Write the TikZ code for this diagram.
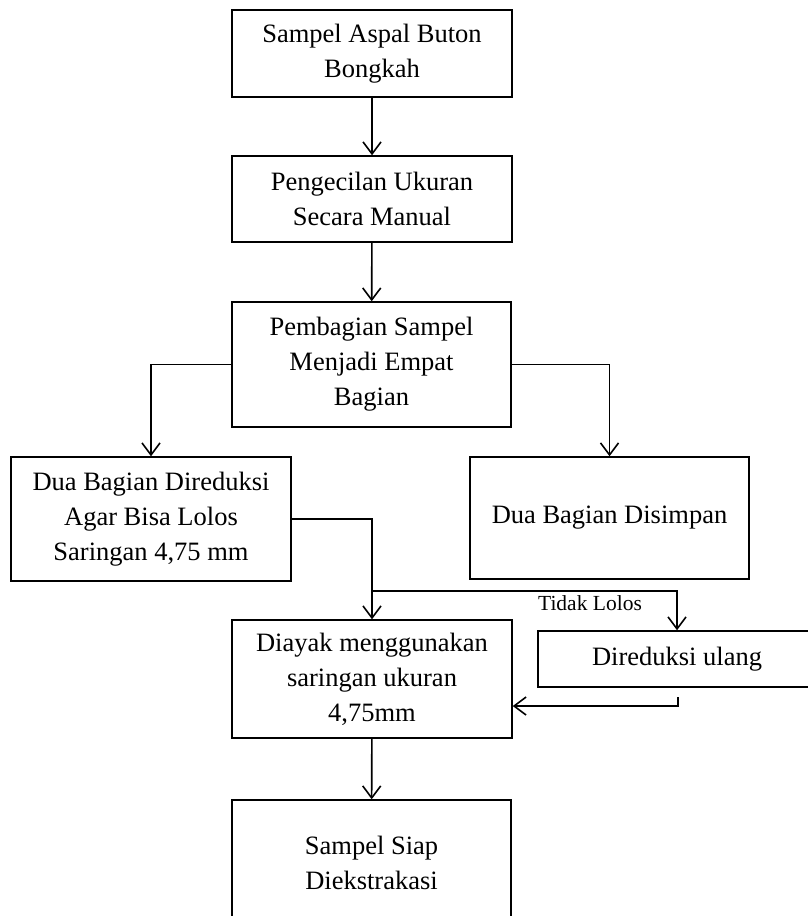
\documentclass[tikz,border=0pt]{standalone}
\usepackage{fontspec}
\setmainfont{Liberation Serif}
\usetikzlibrary{arrows.meta}
\begin{document}
\begin{tikzpicture}[x=1pt,y=-1pt,
  box/.style={draw,line width=1.5pt,align=center,inner sep=0pt,
    font=\fontsize{26.5}{35}\selectfont},
  conn/.style={line width=1.6pt,-{Straight Barb[length=12pt,width=18pt,line width=1.6pt]}},
  plain/.style={line width=1.6pt}]
\useasboundingbox (0,0) rectangle (808,916);
\clip (0,0) rectangle (808,916);
\fill[white] (0,0) rectangle (808,916);
\node[box,minimum width=280pt,minimum height=87pt] (b1) at (372,53.5) {Sampel Aspal Buton\\Bongkah};
\node[box,minimum width=280pt,minimum height=86pt] (b2) at (372,199) {Pengecilan Ukuran\\Secara Manual};
\node[box,minimum width=279pt,minimum height=125pt] (b3) at (371.5,364.5) {Pembagian Sampel\\Menjadi Empat\\Bagian};
\node[box,minimum width=280pt,minimum height=124pt] (b4) at (151,519) {Dua Bagian Direduksi\\Agar Bisa Lolos\\Saringan 4,75 mm};
\node[box,minimum width=279pt,minimum height=122pt] (b5) at (609.5,518) {Dua Bagian Disimpan};
\node[box,minimum width=280pt,minimum height=118pt] (b6) at (372,679) {Diayak menggunakan\\saringan ukuran\\4,75mm};
\node[box,minimum width=278pt,minimum height=56pt] (b7) at (677,659) {Direduksi ulang};
\node[box,minimum width=279pt,minimum height=125pt] (b8) at (371.5,862.5) {Sampel Siap\\Diekstrakasi};
\node[font=\fontsize{21.5}{24}\selectfont,inner sep=0pt] (lbl) at (590,603) {Tidak Lolos};
\coordinate (j) at (372,591);
\coordinate (r) at (678,697);
\coordinate (r2) at (678,706);
\draw[conn] (b1) -- (b2);
\draw[conn] (b2) -- (b3);
\draw[conn] (b3.west) -| (b4.north);
\draw[conn] (b3.east) -| (b5.north);
\draw[conn] (b4.east) -| (b6.north);
\draw[conn] (j) -| (b7.north);
\draw[conn] (r) -- (r2) -- (r2 -| b6.east);
\draw[conn] (b6) -- (b8);
\end{tikzpicture}
\end{document}
